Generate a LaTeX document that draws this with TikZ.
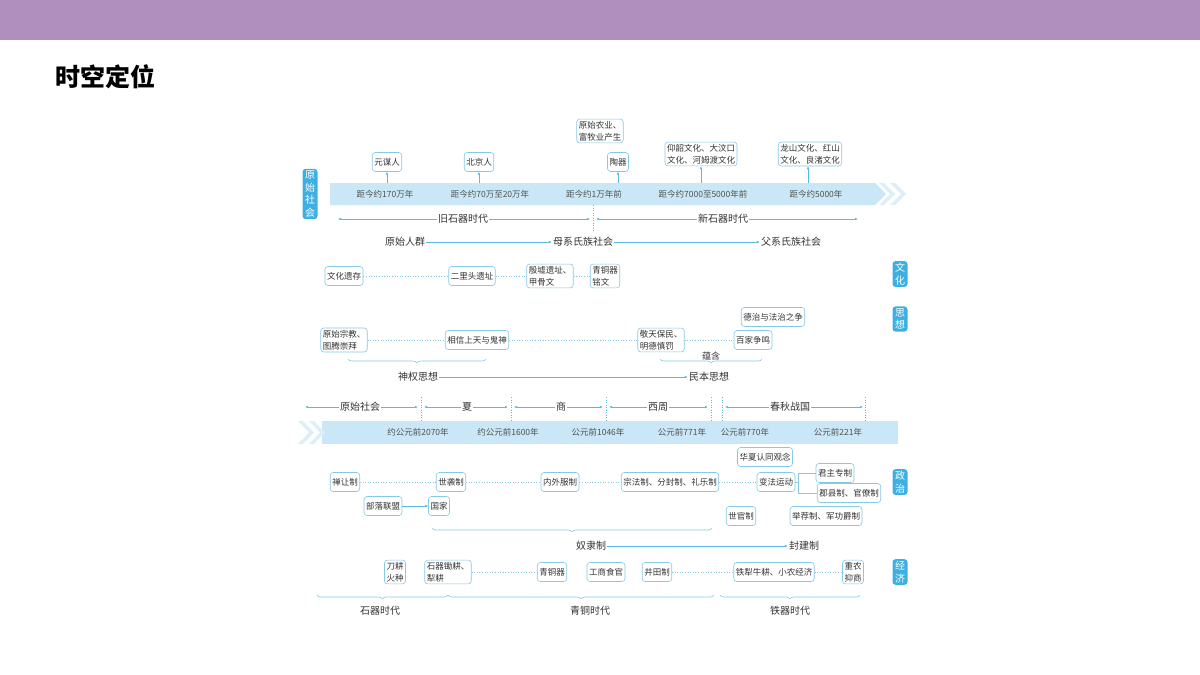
\documentclass[tikz,border=0pt]{standalone}
\usepackage{fontspec}
\newfontfamily\cjk{Noto Sans CJK SC}
\usetikzlibrary{arrows.meta,decorations.pathreplacing,calc}
\definecolor{barc}{HTML}{B08FBE}
\definecolor{bandc}{HTML}{C9E7F6}
\definecolor{chevc}{HTML}{DCEFF9}
\definecolor{boxc}{HTML}{86C8E6}
\definecolor{tabc}{HTML}{3DB0E3}
\definecolor{linec}{HTML}{5BB8E0}
\definecolor{txtc}{HTML}{333333}
\tikzset{
	box/.style={draw=boxc, rounded corners=3pt, fill=white, line width=.6pt, inner sep=2pt,
		font=\cjk\fontsize{8.5}{12}\selectfont, text=txtc, align=left, minimum height=19pt},
	tab/.style={fill=tabc, rounded corners=3pt, text=white, inner sep=2pt, align=center,
		font=\cjk\fontsize{10}{12.5}\selectfont, minimum width=15pt},
	bandtext/.style={font=\cjk\fontsize{8.5}{10}\selectfont, text=txtc!85},
	lbl/.style={font=\cjk\fontsize{10}{12}\selectfont, text=txtc, inner sep=1pt},
	dots/.style={draw=boxc, dotted, line width=.6pt},
	arr/.style={draw=linec, line width=.5pt, -{Latex[length=3pt,width=2.5pt]}},
	seg/.style={draw=linec, line width=.5pt, {Latex[length=3pt,width=2.5pt]}-{Latex[length=3pt,width=2.5pt]}},
	sep/.style={draw=linec, dotted, line width=.5pt},
	brc/.style={draw=boxc, line width=.6pt, decorate, decoration={brace, amplitude=4pt, mirror}}
}
\begin{document}
\begin{tikzpicture}[x=1pt,y=-1pt]
\useasboundingbox (0,0) rectangle (1200,675);
\fill[barc] (0,0) rectangle (1200,40);
\node[anchor=west, font=\cjk\bfseries\fontsize{25}{30}\selectfont] (title) at (52,77) {时空定位};

%% top band
\fill[bandc] (330,183) -- (875,183) -- (886,194) -- (875,205) -- (330,205) -- cycle;
\foreach \xx in {879,890}
  \fill[chevc] (\xx,183) -- (\xx+5,183) -- (\xx+16,194) -- (\xx+5,205) -- (\xx,205) -- (\xx+11,194) -- cycle;
\node[tab] (tsociety) at (310,194) {原\\始\\社\\会};
\node[bandtext] (d1) at (385,194) {距今约170万年};
\node[bandtext] (d2) at (490,194) {距今约70万至20万年};
\node[bandtext] (d3) at (594,194) {距今约1万年前};
\node[bandtext] (d4) at (703,194) {距今约7000至5000年前};
\node[bandtext] (d5) at (816,194) {距今约5000年};
\node[box] (yuanmou) at (387,162) {元谋人};
\node[box] (beijing) at (479,162) {北京人};
\node[box] (nongye) at (600,131) {原始农业、\\富牧业产生};
\node[box] (taoqi) at (618,162) {陶器};
\node[box] (yangshao) at (701,154) {仰韶文化、大汶口\\文化、河姆渡文化};
\node[box] (longshan) at (810,154) {龙山文化、红山\\文化、良渚文化};
\foreach \nn/\xx in {yuanmou/387,beijing/479,taoqi/618,yangshao/701,longshan/808}
  \draw[arr] (\xx,183) -- (\nn.south -| \xx,0);
\node[lbl] (jiushi) at (463,219) {旧石器时代};
\node[lbl] (xinshi) at (723,219) {新石器时代};
\draw[arr] (jiushi) -- (338,219);
\draw[arr] (jiushi) -- (590,219);
\draw[arr] (xinshi) -- (596,219);
\draw[arr] (xinshi) -- (858,219);
\draw[sep] (593,205) -- (593,232);
\node[lbl] (renqun) at (405,242) {原始人群};
\node[lbl] (muxi) at (583,242) {母系氏族社会};
\node[lbl] (fuxi) at (791,242) {父系氏族社会};
\draw[arr] (renqun) -- (muxi);
\draw[arr] (muxi) -- (fuxi);

%% culture
\node[tab] (twenhua) at (900,274) {文\\化};
\node[tab] (tsixiang) at (900,319) {思\\想};
\node[box] (yicun) at (344,276) {文化遗存};
\node[box] (erlitou) at (472,276) {二里头遗址};
\node[box] (yinxu) at (550,276) {殷墟遗址、\\甲骨文};
\node[box] (mingwen) at (605,276) {青铜器\\铭文};
\draw[dots] (yicun) -- (erlitou) -- (yinxu) -- (mingwen);

%% thought
\node[box] (zongjiao) at (344,340) {原始宗教、\\图腾崇拜};
\node[box] (shangtian) at (477,340) {相信上天与鬼神};
\node[box] (jingtian) at (661,340) {敬天保民、\\明德慎罚};
\node[box] (baijia) at (753,340) {百家争鸣};
\node[box] (dezhi) at (773,317) {德治与法治之争};
\draw[dots] (zongjiao) -- (shangtian) -- (jingtian) -- (baijia);
\draw[brc] (348,359) -- (486,359);
\draw[brc] (660,359) -- (762,359);
\node[lbl, font=\cjk\fontsize{9}{11}\selectfont] (yunhan) at (711,356) {蕴含};
\node[lbl] (shenquan) at (418,377) {神权思想};
\node[lbl] (minben) at (709,377) {民本思想};
\draw[arr] (shenquan) -- (minben);

%% dynasties
\node[lbl] (yuanshi) at (360,407) {原始社会};
\node[lbl] (xia) at (467,407) {夏};
\node[lbl] (shang) at (561,407) {商};
\node[lbl] (xizhou) at (658,407) {西周};
\node[lbl] (chunqiu) at (790,407) {春秋战国};
\draw[arr] (yuanshi) -- (305,407);
\draw[arr] (yuanshi) -- (418,407);
\foreach \nn/\aa/\bb in {xia/424/508,shang/514/603,xizhou/609/708,chunqiu/725/863}{
  \draw[arr] (\nn) -- (\aa,407);
  \draw[arr] (\nn) -- (\bb,407);
}
\foreach \xx in {421,511,606,711,722,865}
  \draw[sep] (\xx,397) -- (\xx,421);
\fill[bandc] (322,421) rectangle (898,444);
\foreach \xx in {298,309}
  \fill[chevc] (\xx,421) -- (\xx+5,421) -- (\xx+16,432.5) -- (\xx+5,444) -- (\xx,444) -- (\xx+11,432.5) -- cycle;
\node[bandtext] (y1) at (418,432) {约公元前2070年};
\node[bandtext] (y2) at (508,432) {约公元前1600年};
\node[bandtext] (y3) at (598,432) {公元前1046年};
\node[bandtext] (y4) at (682,432) {公元前771年};
\node[bandtext] (y5) at (745,432) {公元前770年};
\node[bandtext] (y6) at (838,432) {公元前221年};

%% politics
\node[tab] (tzhengzhi) at (900,482) {政\\治};
\node[box] (shanrang) at (345,482) {禅让制};
\node[box] (shixi) at (451,482) {世袭制};
\node[box] (neiwai) at (560,482) {内外服制};
\node[box] (zongfa) at (670,482) {宗法制、分封制、礼乐制};
\node[box] (bianfa) at (776,482) {变法运动};
\node[box] (huaxia) at (765,457) {华夏认同观念};
\node[box] (junzhu) at (835,473) {君主专制};
\node[box] (junxian) at (849,493) {郡县制、官僚制};
\draw[dots] (shanrang) -- (shixi) -- (neiwai) -- (zongfa) -- (bianfa);
\draw[boxc, line width=.6pt] (bianfa.east) -- ++(3,0) coordinate (bk) |- (junzhu.west);
\draw[boxc, line width=.6pt] (bk) |- (junxian.west);
\node[box] (buluo) at (383,506) {部落联盟};
\node[box] (guojia) at (439,506) {国家};
\draw[arr] (buluo) -- (guojia);
\node[box] (shiguan) at (741,516) {世官制};
\node[box] (jujian) at (826,516) {举荐制、军功爵制};
\draw[brc] (432,528) -- (712,528);
\node[lbl] (nuli) at (591,546) {奴隶制};
\node[lbl] (fengjian) at (804,546) {封建制};
\draw[arr] (nuli) -- (fengjian);

%% economy
\node[tab] (tjingji) at (900,572) {经\\济};
\node[box] (daogeng) at (395,572) {刀耕\\火种};
\node[box] (chugeng) at (448,572) {石器锄耕、\\犁耕};
\node[box] (qingtong) at (552,572) {青铜器};
\node[box] (gongshang) at (606,572) {工商食官};
\node[box] (jingtian2) at (657,572) {井田制};
\node[box] (tieli) at (774,572) {铁犁牛耕、小农经济};
\node[box] (zhongnong) at (853,572) {重农\\抑商};
\draw[dots] (chugeng) -- (qingtong);
\draw[dots] (jingtian2) -- (tieli) -- (zhongnong);
\draw[brc] (317,595) -- (448,595);
\draw[brc] (448,595) -- (714,595);
\draw[brc] (720,595) -- (860,595);
\node[lbl] (shiqi) at (380,611) {石器时代};
\node[lbl] (qingtongsd) at (590,611) {青铜时代};
\node[lbl] (tieqi) at (790,611) {铁器时代};
\end{tikzpicture}
\end{document}
